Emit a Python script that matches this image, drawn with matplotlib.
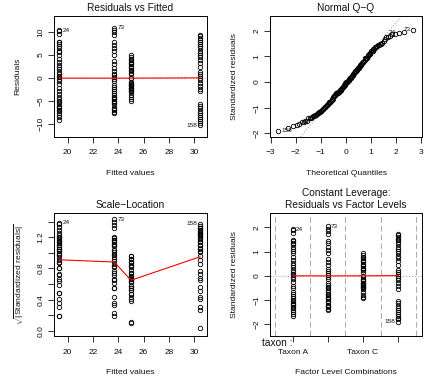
import numpy as np
import matplotlib
matplotlib.use("Agg")
import matplotlib.pyplot as plt
from statistics import NormalDist

plt.rcParams['font.family'] = ['Liberation Sans', 'DejaVu Sans']
plt.rcParams['mathtext.fontset'] = 'custom'
plt.rcParams['mathtext.rm'] = 'Liberation Sans'
plt.rcParams['mathtext.it'] = 'Liberation Sans:italic'

# lm(y ~ taxon): one fitted value per taxon level, residuals
levels = ["Taxon A", "Taxon B", "Taxon C", "Taxon D"]
level_ticklabels = ["Taxon A", "", "Taxon C", ""]
fitted_vals = [19.35, 23.68, 25.0, 30.45]

res_a = [10.4, 10.2, 9.6, 7.9, 7.8, 7.4, 7.0, 6.5, 6.0, 5.6, 5.1, 4.2, 3.5, 2.9,
         2.4, 1.9, 1.3, 0.9, 0.5, 0.2, -0.2, -0.7, -1.3, -2.2, -2.8, -3.5, -4.1,
         -4.5, -4.9, -5.3, -5.7, -6.0, -6.3, -6.6, -6.9, -7.2, -7.6, -8.1, -8.5, -9.0]
res_b = [11.0, 10.5, 10.0, 9.4, 7.8, 7.3, 6.5, 5.8, 5.1, 3.7, 3.0, 2.3, 1.6, 1.0,
         0.6, 0.2, -0.3, -0.7, -1.6, -2.0, -2.4, -2.8, -3.2, -3.6, -4.0, -4.3,
         -4.6, -4.9, -5.2, -5.5, -5.8, -6.4, -6.7, -7.0, -7.3, -7.6]
res_c = [5.0, 4.6, 4.2, 3.9, 3.6, 3.3, 3.0, 2.7, 2.4, 2.1, 1.8, 1.5, 1.2, 0.9,
         0.07, -0.06, -0.8, -1.0, -1.2, -1.5, -1.6, -1.8, -2.1, -2.2, -2.4, -2.5,
         -2.7, -3.0, -3.7, -4.2, -4.6, -5.0]
res_d = [9.4, 9.1, 8.7, 8.3, 7.9, 7.5, 7.0, 6.5, 6.0, 5.5, 5.0, 4.5, 4.0, 3.2,
         2.5, 1.4, 0.9, 0.5, 0.01, -0.4, -1.0, -1.7, -2.3, -2.9,
         -5.6, -6.1, -6.6, -7.1, -7.6, -8.1, -8.5, -8.9, -9.3, -9.7, -10.2]

# observation numbers of the labelled extremes, by group
id_labels = {0: "24", 1: "73", 3: "158"}

groups = [res_a, res_b, res_c, res_d]
r = np.concatenate([np.array(g, float) for g in groups])
gidx = np.concatenate([np.full(len(g), i) for i, g in enumerate(groups)])
counts = np.array([len(g) for g in groups])
fit = np.array(fitted_vals)[gidx]
n = len(r)
sigma = np.sqrt(np.sum(r ** 2) / (n - len(groups)))
hat = 1.0 / counts[gidx]
std = r / (sigma * np.sqrt(1 - hat))
sl = np.sqrt(np.abs(std))

# the most extreme point of each labelled group
extremes = {}
for gi in id_labels:
    members = np.where(gidx == gi)[0]
    extremes[gi] = members[np.argmax(np.abs(std[members]))]

nd = NormalDist()
order = np.argsort(std)
theo = np.empty(n)
theo[order] = [nd.inv_cdf((i - 0.5) / n) for i in range(1, n + 1)]
yq = np.quantile(std, [0.25, 0.75])
xq = [nd.inv_cdf(0.25), nd.inv_cdf(0.75)]
qq_slope = (yq[1] - yq[0]) / (xq[1] - xq[0])

TXT = "#111111"
pt = dict(marker='o', ms=3.2, mfc='none', mec='black', mew=0.6, ls='none')


def style(ax):
    for s in ax.spines.values():
        s.set_linewidth(0.7)
    ax.tick_params(axis='both', length=4.5, width=0.6, labelsize=6, colors=TXT)
    ax.tick_params(axis='x', pad=4.5)
    ax.tick_params(axis='y', pad=2.5)
    plt.setp(ax.get_yticklabels(), rotation=90, va='center')
    ax.xaxis.set_label_coords(0.5, -0.30)
    ax.yaxis.set_label_coords(-0.235, 0.5)
    ax.xaxis.label.set_va('center')
    ax.yaxis.label.set_va('center')


def label_ids(ax, xs, ys, mid):
    for gi, i in extremes.items():
        right = xs[i] > mid
        ax.annotate(id_labels[gi], (xs[i], ys[i]),
                    xytext=(-2.2 if right else 2.2, 0), textcoords='offset points',
                    ha='right' if right else 'left', va='center',
                    fontsize=4.6, color=TXT)


fig = plt.figure(figsize=(4.3, 3.81), dpi=100)
W, H = 430, 381


def box(x0, y0, x1, y1):
    return fig.add_axes([x0 / W, 1 - y1 / H, (x1 - x0) / W, (y1 - y0) / H])


ax1 = box(54, 16, 207, 137)
ax2 = box(270, 16, 422, 137)
ax3 = box(54, 213, 207, 336)
ax4 = box(270, 213, 422, 336)

# Residuals vs Fitted
ax1.axhline(0, color='#aaaaaa', ls=':', lw=0.8)
ax1.plot(fit, r, **pt)
ax1.plot(fitted_vals, [np.mean(g) for g in groups], color='red', lw=0.8)
ax1.set_xlim(18.92, 31.0)
ax1.set_ylim(-12.8, 13.5)
ax1.set_xticks([20, 22, 24, 26, 28, 30])
ax1.set_yticks([-10, -5, 0, 5, 10])
ax1.set_xlabel("Fitted values", fontsize=6.1, color=TXT)
ax1.set_ylabel("Residuals", fontsize=6.1, color=TXT)
ax1.set_title("Residuals vs Fitted", fontsize=7.3, color=TXT, pad=3.5)
label_ids(ax1, fit, r, np.mean(ax1.get_xlim()))
style(ax1)

# Normal Q-Q
ax2.axline((xq[0], yq[0]), slope=qq_slope, color='#aaaaaa', ls=':', lw=0.8)
ax2.plot(theo, std, **pt)
ax2.set_xlim(-3.03, 3.04)
ax2.set_ylim(-2.14, 2.57)
ax2.set_xticks([-3, -2, -1, 0, 1, 2, 3])
ax2.set_yticks([-2, -1, 0, 1, 2])
ax2.set_xlabel("Theoretical Quantiles", fontsize=6.1, color=TXT)
ax2.set_ylabel("Standardized residuals", fontsize=6.1, color=TXT)
ax2.set_title("Normal Q\u2212Q", fontsize=7.3, color=TXT, pad=3.5)
label_ids(ax2, theo, std, 0.0)
style(ax2)

# Scale-Location
ax3.plot(fit, sl, **pt)
ax3.plot(fitted_vals, [np.mean(sl[gidx == i]) for i in range(len(groups))],
         color='red', lw=0.8)
ax3.set_xlim(18.92, 31.0)
ax3.set_ylim(-0.064, 1.51)
ax3.set_xticks([20, 22, 24, 26, 28, 30])
ax3.set_yticks([0.0, 0.2, 0.4, 0.6, 0.8, 1.0, 1.2, 1.4])
ax3.set_yticklabels(["0.0", "", "0.4", "", "0.8", "", "1.2", ""])
ax3.set_xlabel("Fitted values", fontsize=6.1, color=TXT)
ax3.set_ylabel(r"$\sqrt{|\mathrm{Standardized\ residuals}|}$", fontsize=6.1, color=TXT)
ax3.set_title("Scale\u2212Location", fontsize=7.3, color=TXT, pad=3.5)
label_ids(ax3, fit, sl, np.mean(ax3.get_xlim()))
style(ax3)
ax3.yaxis.set_label_coords(-0.225, 0.5)

# Constant Leverage: Residuals vs Factor Levels
xl = gidx + 1
for v in np.arange(0.5, len(levels) + 1, 1.0):
    ax4.axvline(v, color='#aaaaaa', lw=0.7, dashes=(6, 3))
ax4.axhline(0, color='#aaaaaa', ls=':', lw=0.8)
ax4.plot(xl, std, **pt)
ax4.plot(np.arange(1, len(levels) + 1),
         [np.mean(std[gidx == i]) for i in range(len(groups))], color='red', lw=0.8)
ax4.set_xlim(0.353, 4.68)
ax4.set_ylim(-2.48, 2.59)
ax4.set_xticks(np.arange(1, len(levels) + 1))
ax4.set_xticklabels(level_ticklabels)
ax4.set_yticks([-2, -1, 0, 1, 2])
ax4.set_xlabel("Factor Level Combinations", fontsize=6.1, color=TXT)
ax4.set_ylabel("Standardized residuals", fontsize=6.1, color=TXT)
ax4.set_title("Constant Leverage:\nResiduals vs Factor Levels", fontsize=7.3,
              color=TXT, pad=3.5, linespacing=1.3)
label_ids(ax4, xl, std, np.mean(ax4.get_xlim()))
style(ax4)
ax4.text(-0.05, -0.06, "taxon :", transform=ax4.transAxes, fontsize=7.3,
         color=TXT, ha='left', va='center')

fig.savefig("out.png", dpi=100)
